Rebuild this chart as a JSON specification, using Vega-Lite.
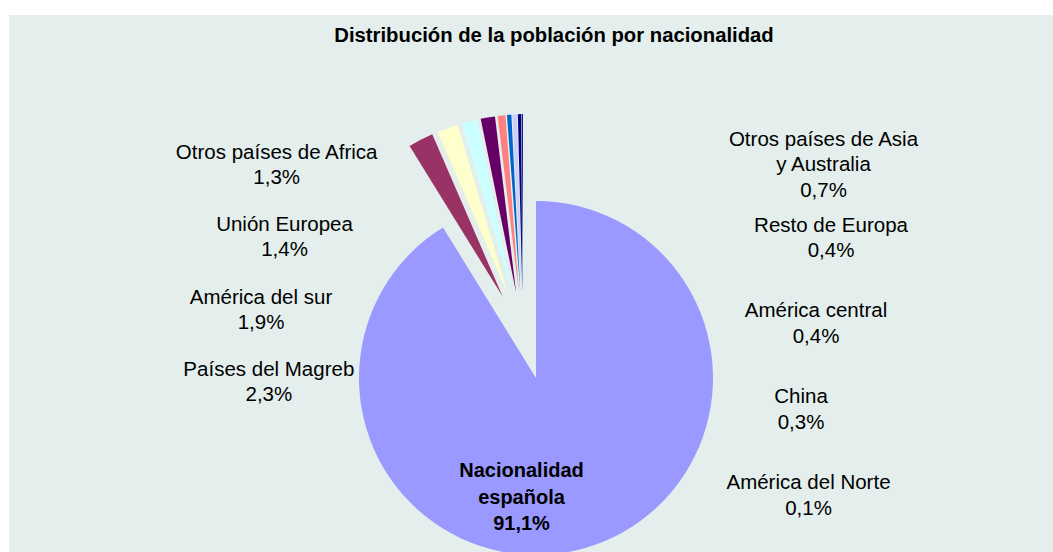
{
  "$schema": "https://vega.github.io/schema/vega-lite/v6.json",
  "width": 1044,
  "height": 537,
  "autosize": "none",
  "padding": {"left": 9, "top": 15, "right": 0, "bottom": 0},
  "background": "#FFFFFF",
  "config": {
    "view": {"fill": "#E4EEEC", "stroke": null},
    "font": "Liberation Sans"
  },
  "title": {
    "text": "Distribución de la población por nacionalidad",
    "font": "Liberation Sans",
    "fontSize": 20.3,
    "fontWeight": "bold",
    "color": "#000000",
    "anchor": "middle",
    "dx": 23,
    "offset": -47,
    "baseline": "alphabetic"
  },
  "data": {
    "values": [
      {"nacionalidad": "Nacionalidad española", "pct": 91.1},
      {"nacionalidad": "Países del Magreb", "pct": 2.3},
      {"nacionalidad": "América del sur", "pct": 1.9},
      {"nacionalidad": "Unión Europea", "pct": 1.4},
      {"nacionalidad": "Otros países de Africa", "pct": 1.3},
      {"nacionalidad": "Otros países de Asia y Australia", "pct": 0.7},
      {"nacionalidad": "Resto de Europa", "pct": 0.4},
      {"nacionalidad": "América central", "pct": 0.4},
      {"nacionalidad": "China", "pct": 0.3},
      {"nacionalidad": "América del Norte", "pct": 0.1}
    ]
  },
  "transform": [
    {"window": [{"op": "row_number", "as": "idx"}]},
    {"stack": "pct", "groupby": [], "sort": [{"field": "idx", "order": "ascending"}], "as": ["s0", "s1"]},
    {"calculate": "replace(replace(datum.nacionalidad, ' y Australia', '\\ny Australia'), 'Nacionalidad ', 'Nacionalidad\\n') + '\\n' + replace(format(datum.pct, '.1f'), '.', ',') + '%'", "as": "label"}
  ],
  "layer": [
    {
      "transform": [{"filter": "datum.idx == 1"}],
      "mark": {"type": "arc", "outerRadius": 177, "xOffset": 5, "yOffset": 94.5},
      "encoding": {
        "theta": {"field": "s0", "type": "quantitative", "scale": {"domain": [0, 99.9]}},
        "theta2": {"field": "s1"},
        "color": {
          "field": "nacionalidad", "type": "nominal", "legend": null,
          "scale": {
            "domain": ["Nacionalidad española", "Países del Magreb", "América del sur", "Unión Europea", "Otros países de Africa", "Otros países de Asia y Australia", "Resto de Europa", "América central", "China", "América del Norte"],
            "range": ["#9999FF", "#993366", "#FFFFCC", "#CCFFFF", "#660066", "#FF8080", "#0066CC", "#CCCCFF", "#000080", "#00007A"]
          }
        }
      }
    },
    {
      "transform": [{"filter": "datum.idx > 1"}],
      "mark": {
        "type": "arc",
        "outerRadius": 177,
        "xOffset": {"expr": "5 - 88*sin(((360 - 360*(datum.s0 + datum.s1)/2/99.9) + 17)/2*PI/180)"},
        "yOffset": {"expr": "94.5 - 88*cos(((360 - 360*(datum.s0 + datum.s1)/2/99.9) + 17)/2*PI/180)"}
      },
      "encoding": {
        "theta": {"field": "s0", "type": "quantitative", "scale": {"domain": [0, 99.9]}},
        "theta2": {"field": "s1"},
        "color": {"field": "nacionalidad", "type": "nominal", "legend": null}
      }
    },
    {
      "transform": [{"filter": "datum.idx == 1"}],
      "mark": {"type": "text", "font": "Liberation Sans", "fontSize": 20, "fontWeight": "bold", "color": "#000000", "lineBreak": "\n", "lineHeight": 26.3, "align": "center", "baseline": "middle", "xOffset": -9.5, "yOffset": 187.8},
      "encoding": {"text": {"field": "label"}}
    },
    {
      "transform": [{"filter": {"field": "nacionalidad", "oneOf": ["Otros países de Africa", "Unión Europea", "América del sur", "Países del Magreb"]}}],
      "mark": {"type": "text", "font": "Liberation Sans", "fontSize": 20.5, "color": "#000000", "lineBreak": "\n", "lineHeight": 25, "align": "center", "baseline": "middle"},
      "encoding": {
        "x": {"field": "nacionalidad", "type": "nominal", "axis": null,
          "scale": {"type": "point", "padding": 0, "domain": ["América del sur", "Países del Magreb", "Otros países de Africa", "Unión Europea"], "range": [252, 275.5]}},
        "y": {"field": "nacionalidad", "type": "nominal", "axis": null,
          "scale": {"type": "point", "padding": 0, "domain": ["Otros países de Africa", "Unión Europea", "América del sur", "Países del Magreb"], "range": [138, 355]}},
        "text": {"field": "label"}
      }
    },
    {
      "transform": [{"filter": {"field": "nacionalidad", "oneOf": ["Otros países de Asia y Australia", "Resto de Europa", "América central", "China", "América del Norte"]}}],
      "mark": {"type": "text", "font": "Liberation Sans", "fontSize": 20.5, "color": "#000000", "lineBreak": "\n", "lineHeight": 25.5, "align": "center", "baseline": "middle"},
      "encoding": {
        "x": {"field": "nacionalidad", "type": "nominal", "axis": null,
          "scale": {"type": "point", "padding": 0, "domain": ["China", "América del Norte", "América central", "Otros países de Asia y Australia", "Resto de Europa"], "range": [792, 822]}},
        "y": {"field": "nacionalidad", "type": "nominal", "axis": null,
          "scale": {"type": "point", "padding": 0, "domain": ["Otros países de Asia y Australia", "Resto de Europa", "América central", "China", "América del Norte"], "range": [124.9, 468.0]}},
        "text": {"field": "label"}
      }
    }
  ],
  "resolve": {"scale": {"x": "independent", "y": "independent"}}
}
